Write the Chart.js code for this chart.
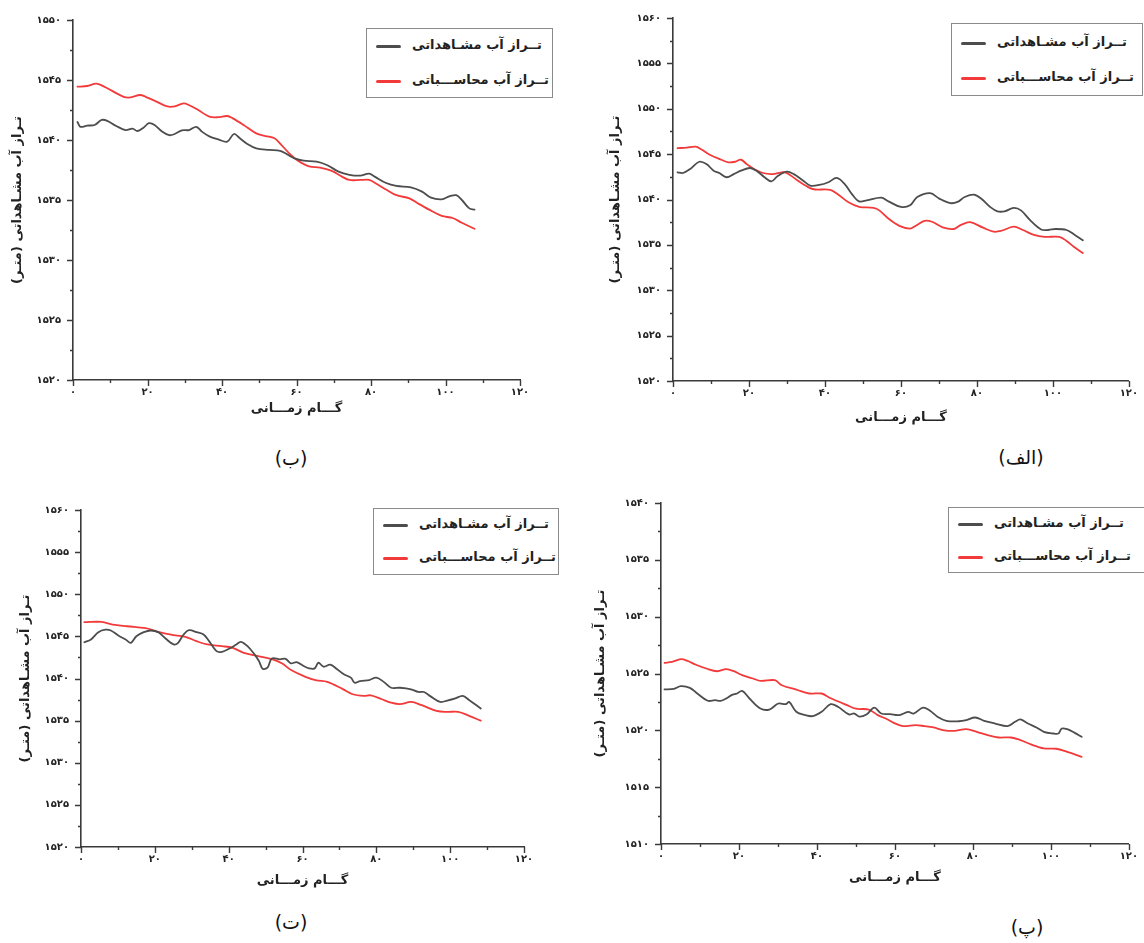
<!DOCTYPE html>
<html>
<head>
<meta charset="utf-8">
<script src="https://cdn.jsdelivr.net/npm/chart.js@4.4.1/dist/chart.umd.min.js"></script>
<style>
  html, body { margin: 0; padding: 0; background: #fff; overflow: hidden; }
  #page { position: relative; width: 1144px; height: 943px; overflow: hidden; background: #fff; }
  canvas { position: absolute; }
  .legend { position: absolute; border: 1px solid #8a8a8a; background: #fff; box-sizing: border-box; }
  .legend .sample { position: absolute; left: 9px; width: 25px; height: 3px; border-radius: 2px; }
  .legend .label { position: absolute; left: 45px; font: bold 13px 'DejaVu Sans', sans-serif; color: #222; white-space: nowrap; direction: rtl; line-height: 18px; }
  .caption { position: absolute; font: 19px 'DejaVu Sans', sans-serif; color: #111; direction: rtl; transform: translate(-50%, -50%); white-space: nowrap; }
</style>
</head>
<body>
<div id="page"></div>
<script>
// ---------------- data ----------------
const labelObserved = 'تــراز آب مشـاهداتی';
const labelComputed = 'تــراز آب محاســـباتی';
const yTitle = 'تـراز آب مشـاهداتی (متـر)';
const xTitle = 'گـــام زمـــانی';

// Panel (ب)
const stepsB_obs = [1.2,2,3.8,5.8,7.7,9.2,11.6,14.1,16,17.3,19,20.4,21.9,23.9,25.8,27.3,29.2,31.2,33.1,34.6,36.6,39,41.4,43.2,44.8,46.8,49.2,52.7,55.6,57.5,59.5,61.9,65.4,68.3,71.3,74.2,77.1,79.5,81,83.9,86.8,90.7,93.7,96.1,99,101,102.9,104.4,106.4,107.8];
const levelB_obs = [1541.5,1541.1,1541.2,1541.25,1541.67,1541.6,1541.17,1540.83,1540.95,1540.75,1541.05,1541.4,1541.25,1540.7,1540.4,1540.5,1540.8,1540.83,1541.1,1540.7,1540.3,1540.05,1539.86,1540.5,1540.14,1539.67,1539.3,1539.17,1539.1,1538.8,1538.47,1538.28,1538.2,1537.9,1537.36,1537.1,1537.03,1537.2,1536.95,1536.44,1536.17,1536.05,1535.7,1535.2,1535.06,1535.3,1535.4,1535.0,1534.3,1534.2];
const stepsB_calc = [1.2,3.8,6.3,8.7,13.6,15.5,18,19.5,22.4,25.3,27.3,29.7,31.2,33.6,36.6,39,41.4,42.9,45.8,49.2,51.7,54.1,55.6,58.5,60.5,63.4,66.3,69.3,72.2,74.2,77.1,79.5,82,83.9,86.8,90.3,92.7,95.6,99,101.9,104.4,107.8];
const levelB_calc = [1544.44,1544.5,1544.7,1544.4,1543.6,1543.55,1543.75,1543.6,1543.2,1542.8,1542.8,1543.05,1542.9,1542.5,1541.95,1541.9,1542.0,1541.8,1541.25,1540.55,1540.33,1540.14,1539.7,1538.75,1538.25,1537.8,1537.7,1537.45,1536.95,1536.67,1536.67,1536.67,1536.25,1535.9,1535.4,1535.14,1534.7,1534.2,1533.67,1533.5,1533.1,1532.6];

// Panel (الف)
const stepsA_obs = [1.2,2.6,4.5,6.9,8.8,10.7,12.2,14.1,16,17.9,20.3,22.2,24.1,25.9,27.5,29.9,31.8,34.2,36.1,38.5,40.9,43.1,45.2,47.1,49,51,54.8,56.7,60,62.4,64.3,67.7,70.1,73,74.9,76.8,79.2,81.1,83.5,85.4,87.3,89.7,91.6,94,96.9,98.8,100.7,103.6,105.5,107.9];
const levelA_obs = [1543.0,1542.92,1543.36,1544.16,1543.9,1543.18,1542.92,1542.45,1542.8,1543.18,1543.47,1543.1,1542.45,1542.0,1542.56,1543.07,1542.8,1542.1,1541.54,1541.6,1541.9,1542.38,1541.7,1540.6,1539.8,1539.9,1540.2,1539.8,1539.18,1539.36,1540.27,1540.7,1540.1,1539.6,1539.73,1540.27,1540.53,1540.1,1539.18,1538.7,1538.7,1539.07,1538.8,1537.73,1536.7,1536.64,1536.75,1536.64,1536.17,1535.5];
const stepsA_calc = [1.2,3.6,6,7.4,9.8,12.7,14.6,16.3,17.9,19.4,21.3,23.7,26.1,29.4,30.8,33.2,36.1,37.5,41.4,43.3,46.2,49,52.8,54.3,56.7,59.6,62.4,63.9,66.2,68.2,71,73.9,75.8,78.2,81.6,84.4,86.3,89.7,92.1,95,97.8,101.7,103.6,105.5,107.9];
const levelA_calc = [1545.65,1545.72,1545.83,1545.54,1544.9,1544.38,1544.1,1544.16,1544.38,1543.9,1543.36,1542.92,1542.8,1543.0,1542.7,1541.98,1541.25,1541.1,1541.07,1540.6,1539.7,1539.2,1539.07,1538.8,1537.9,1537.1,1536.8,1537.1,1537.65,1537.55,1536.93,1536.75,1537.2,1537.5,1536.9,1536.46,1536.53,1537.0,1536.64,1536.1,1535.88,1535.88,1535.44,1534.8,1534.1];

// Panel (ت)
const stepsT_obs = [0.9,2.7,4.7,6.6,8.1,10.1,12.1,13.5,15,17,18.9,20.9,22.9,25.1,26.3,27.8,29.3,31.3,33.2,34.7,36.7,38.2,40.1,42.1,43.3,45.1,47,48.2,49.2,50.5,51.7,53.9,55.4,56.9,58.4,60.3,61.8,63.3,64.3,65.7,67.5,69.2,71.2,73.1,74.1,75.6,78.1,80,82,84,86.4,89.4,91.4,92.9,94.8,97.3,99.2,101.2,103.4,105.1,108.3];
const levelT_obs = [1544.3,1544.63,1545.5,1545.8,1545.7,1545.1,1544.63,1544.24,1545.02,1545.5,1545.7,1545.5,1544.75,1544.04,1544.24,1545.22,1545.73,1545.5,1545.22,1544.43,1543.25,1543.17,1543.53,1544.04,1544.35,1543.84,1542.86,1542.07,1541.16,1541.28,1542.38,1542.27,1542.34,1541.8,1541.95,1541.48,1541.2,1541.2,1541.87,1541.4,1541.64,1541.16,1540.5,1540.1,1539.5,1539.7,1539.82,1540.1,1539.6,1538.9,1538.9,1538.72,1538.4,1538.4,1537.85,1537.22,1537.38,1537.6,1537.93,1537.46,1536.43];
const stepsT_calc = [0.9,5.6,8.6,12.5,17.5,20.4,24.4,28.3,31.3,34.2,38.2,41.1,44.1,48,51.9,54.4,56.9,60.8,63.8,66.7,70.7,73.6,76.6,78.5,81.5,83.9,86.4,89.4,92.3,96.3,99.2,102.2,105.1,108.3];
const levelT_calc = [1546.68,1546.72,1546.4,1546.2,1545.97,1545.6,1545.2,1544.95,1544.43,1544.04,1543.84,1543.64,1543.05,1542.66,1542.27,1541.8,1541.0,1540.2,1539.78,1539.6,1538.8,1538.13,1537.93,1538.0,1537.54,1537.14,1536.95,1537.22,1536.83,1536.16,1536.04,1536.04,1535.57,1535.0];

// Panel (پ)
const stepsP_obs = [0.9,3.3,5.1,7.4,9.3,12,13.9,15.3,16.7,18.1,19.5,20.8,22.7,25.5,27.8,30.1,32,32.9,34.7,37,38.9,41.2,43.5,45.4,48.2,49.6,50.9,52.8,54.7,56.5,58.8,61.1,63.4,64.8,67.2,69,70.9,73.2,76.4,78.3,80.6,82.9,85.7,88.9,90.8,92.2,94.1,96.3,98.2,100.6,101.9,102.8,104.2,106.1,107.9];
const levelP_obs = [1523.6,1523.65,1523.89,1523.74,1523.24,1522.6,1522.65,1522.6,1522.8,1523.1,1523.24,1523.47,1522.8,1521.92,1521.83,1522.36,1522.3,1522.5,1521.63,1521.34,1521.25,1521.63,1522.3,1522.07,1521.4,1521.48,1521.2,1521.42,1522.0,1521.48,1521.42,1521.34,1521.63,1521.48,1522.0,1521.72,1521.2,1520.84,1520.8,1520.9,1521.13,1520.84,1520.6,1520.37,1520.75,1520.96,1520.6,1520.25,1519.87,1519.72,1519.72,1520.16,1520.1,1519.78,1519.43];
const stepsP_calc = [0.9,2.8,5.1,6.9,8.8,11.6,14.4,16.7,18.5,20.8,23.6,25.5,29.2,31,34.7,38,41.2,43.1,45,47.7,50,53.3,55.6,57.9,59.7,62.1,65.3,67.6,69.9,72.7,75.5,78.3,81,83.8,86.6,89.8,92.2,94.9,98.2,101.4,104.2,107.9];
const levelP_calc = [1525.94,1526.02,1526.26,1526.1,1525.79,1525.44,1525.2,1525.38,1525.23,1524.85,1524.56,1524.35,1524.41,1523.97,1523.59,1523.24,1523.24,1522.89,1522.6,1522.22,1521.9,1521.83,1521.34,1521.0,1520.66,1520.37,1520.46,1520.37,1520.25,1520.0,1519.96,1520.1,1519.87,1519.58,1519.37,1519.37,1519.14,1518.76,1518.41,1518.38,1518.1,1517.67];

// axis ranges and captions
const xRange = [0, 120];
const yRangeB = [1520, 1550];
const yRangeA = [1520, 1560];
const yRangeT = [1520, 1560];
const yRangeP = [1510, 1540];
const captions = ['(ب)', '(الف)', '(ت)', '(پ)'];

// ---------------- styling / layout ----------------
const GRAY = '#4d4d4d';
const RED = '#f23a3a';
const AXIS = '#3a3a3a';
const FONT = "'DejaVu Sans', sans-serif";
const RLM = '\u200F';

const persian = v => String(v).replace(/\d/g, d => '۰۱۲۳۴۵۶۷۸۹'[d]);

const tickMarks = {
  id: 'tickMarks',
  afterDraw(chart) {
    const ctx = chart.ctx;
    const xs = chart.scales.x, ys = chart.scales.y;
    ctx.save();
    ctx.strokeStyle = AXIS;
    ctx.lineWidth = 1.4;
    ctx.beginPath();
    for (let v = ys.min; v <= ys.max + 1e-6; v += 2.5) {
      const p = Math.round(ys.getPixelForValue(v)) + 0.5;
      const len = (Math.abs(v % 5) < 1e-6) ? 6 : 3;
      ctx.moveTo(ys.right - len, p);
      ctx.lineTo(ys.right, p);
    }
    for (let v = xs.min; v <= xs.max + 1e-6; v += 10) {
      const p = Math.round(xs.getPixelForValue(v)) + 0.5;
      const len = (v % 20 === 0) ? 6 : 3;
      ctx.moveTo(p, xs.top);
      ctx.lineTo(p, xs.top + len);
    }
    ctx.stroke();
    ctx.restore();
  }
};

const page = document.getElementById('page');

function makePanel(cfg) {
  const c = document.createElement('canvas');
  c.width = cfg.w; c.height = cfg.h;
  c.style.left = cfg.left + 'px'; c.style.top = cfg.top + 'px';
  c.style.width = cfg.w + 'px'; c.style.height = cfg.h + 'px';
  page.appendChild(c);
  const mk = (xs, ys) => xs.map((s, i) => ({ x: s, y: ys[i] }));
  const datasets = [
    { label: labelObserved, data: mk(cfg.obsX, cfg.obsY), borderColor: GRAY, borderWidth: 1.8 },
    { label: labelComputed, data: mk(cfg.calcX, cfg.calcY), borderColor: RED, borderWidth: 1.8 }
  ];
  const chart = new Chart(c, {
    type: 'line',
    data: { datasets },
    options: {
      responsive: false, animation: false, devicePixelRatio: 1,
      parsing: false,
      elements: { point: { radius: 0 }, line: { tension: 0.35, borderCapStyle: 'round', borderJoinStyle: 'round' } },
      layout: { padding: { left: 0, top: cfg.padTop, right: cfg.padRight, bottom: 0 } },
      plugins: { legend: { display: false }, tooltip: { enabled: false } },
      scales: {
        x: {
          type: 'linear', min: xRange[0], max: xRange[1],
          afterFit: s => { s.height = cfg.xH; },
          grid: { display: true, drawOnChartArea: false, drawTicks: false },
          border: { display: true, color: AXIS, width: 1.6 },
          ticks: { stepSize: 20, maxRotation: 0, padding: cfg.xTickPad, color: '#222',
                   font: { family: FONT, size: 10, weight: 'bold' }, callback: v => persian(v) },
          title: { display: true, text: RLM + xTitle + RLM, color: '#222',
                   font: { family: FONT, size: 13, weight: 'bold' }, padding: { top: 0, bottom: cfg.xTitlePad } }
        },
        y: {
          type: 'linear', min: cfg.yRange[0], max: cfg.yRange[1],
          afterFit: s => { s.width = cfg.yW; },
          grid: { display: true, drawOnChartArea: false, drawTicks: false },
          border: { display: true, color: AXIS, width: 1.6 },
          ticks: { stepSize: 5, padding: 12, color: '#222',
                   font: { family: FONT, size: 10, weight: 'bold' }, callback: v => persian(v) },
          title: { display: true, text: RLM + yTitle + RLM, color: '#222',
                   font: { family: FONT, size: 13, weight: 'bold' }, padding: { top: cfg.yTitlePad, bottom: 0 } }
        }
      }
    },
    plugins: [tickMarks]
  });

  // legend box built from the dataset labels / colours
  const lg = document.createElement('div');
  lg.className = 'legend';
  lg.style.left = cfg.lg[0] + 'px'; lg.style.top = cfg.lg[1] + 'px';
  lg.style.width = cfg.lg[2] + 'px'; lg.style.height = cfg.lg[3] + 'px';
  chart.data.datasets.forEach((ds, i) => {
    const row = cfg.lgRows[i];
    const s = document.createElement('div');
    s.className = 'sample';
    s.style.top = (row - 1.5) + 'px';
    s.style.background = ds.borderColor;
    lg.appendChild(s);
    const t = document.createElement('div');
    t.className = 'label';
    t.style.top = (row - 10) + 'px';
    t.textContent = ds.label;
    lg.appendChild(t);
  });
  page.appendChild(lg);

  const cap = document.createElement('div');
  cap.className = 'caption';
  cap.style.left = cfg.cap[0] + 'px'; cap.style.top = cfg.cap[1] + 'px';
  cap.textContent = cfg.capText;
  page.appendChild(cap);
}

makePanel({ left: 0, top: 0, w: 560, h: 430, padTop: 20, padRight: 40, yW: 73, xH: 50,
  xTickPad: 6, xTitlePad: 14, yTitlePad: 10, yRange: yRangeB,
  obsX: stepsB_obs, obsY: levelB_obs, calcX: stepsB_calc, calcY: levelB_calc,
  lg: [366, 28, 187, 70], lgRows: [17, 52], cap: [291, 458], capText: captions[0] });

makePanel({ left: 580, top: 0, w: 564, h: 430, padTop: 14, padRight: 15, yW: 93, xH: 49,
  xTickPad: 6, xTitlePad: 5, yTitlePad: 28, yRange: yRangeA,
  obsX: stepsA_obs, obsY: levelA_obs, calcX: stepsA_calc, calcY: levelA_calc,
  lg: [951, 23, 192, 73], lgRows: [19, 54], cap: [1021, 457], capText: captions[1] });

makePanel({ left: 0, top: 470, w: 560, h: 430, padTop: 40, padRight: 36, yW: 81, xH: 53,
  xTickPad: 6, xTitlePad: 12, yTitlePad: 18, yRange: yRangeT,
  obsX: stepsT_obs, obsY: levelT_obs, calcX: stepsT_calc, calcY: levelT_calc,
  lg: [373, 508, 186, 67], lgRows: [16, 49], cap: [291, 922], capText: captions[2] });

makePanel({ left: 580, top: 470, w: 564, h: 430, padTop: 33, padRight: 11, yW: 81, xH: 56,
  xTickPad: 6, xTitlePad: 15, yTitlePad: 13, yRange: yRangeP,
  obsX: stepsP_obs, obsY: levelP_obs, calcX: stepsP_calc, calcY: levelP_calc,
  lg: [948, 507, 200, 66], lgRows: [16, 49], cap: [1027, 927], capText: captions[3] });
</script>
</body>
</html>
